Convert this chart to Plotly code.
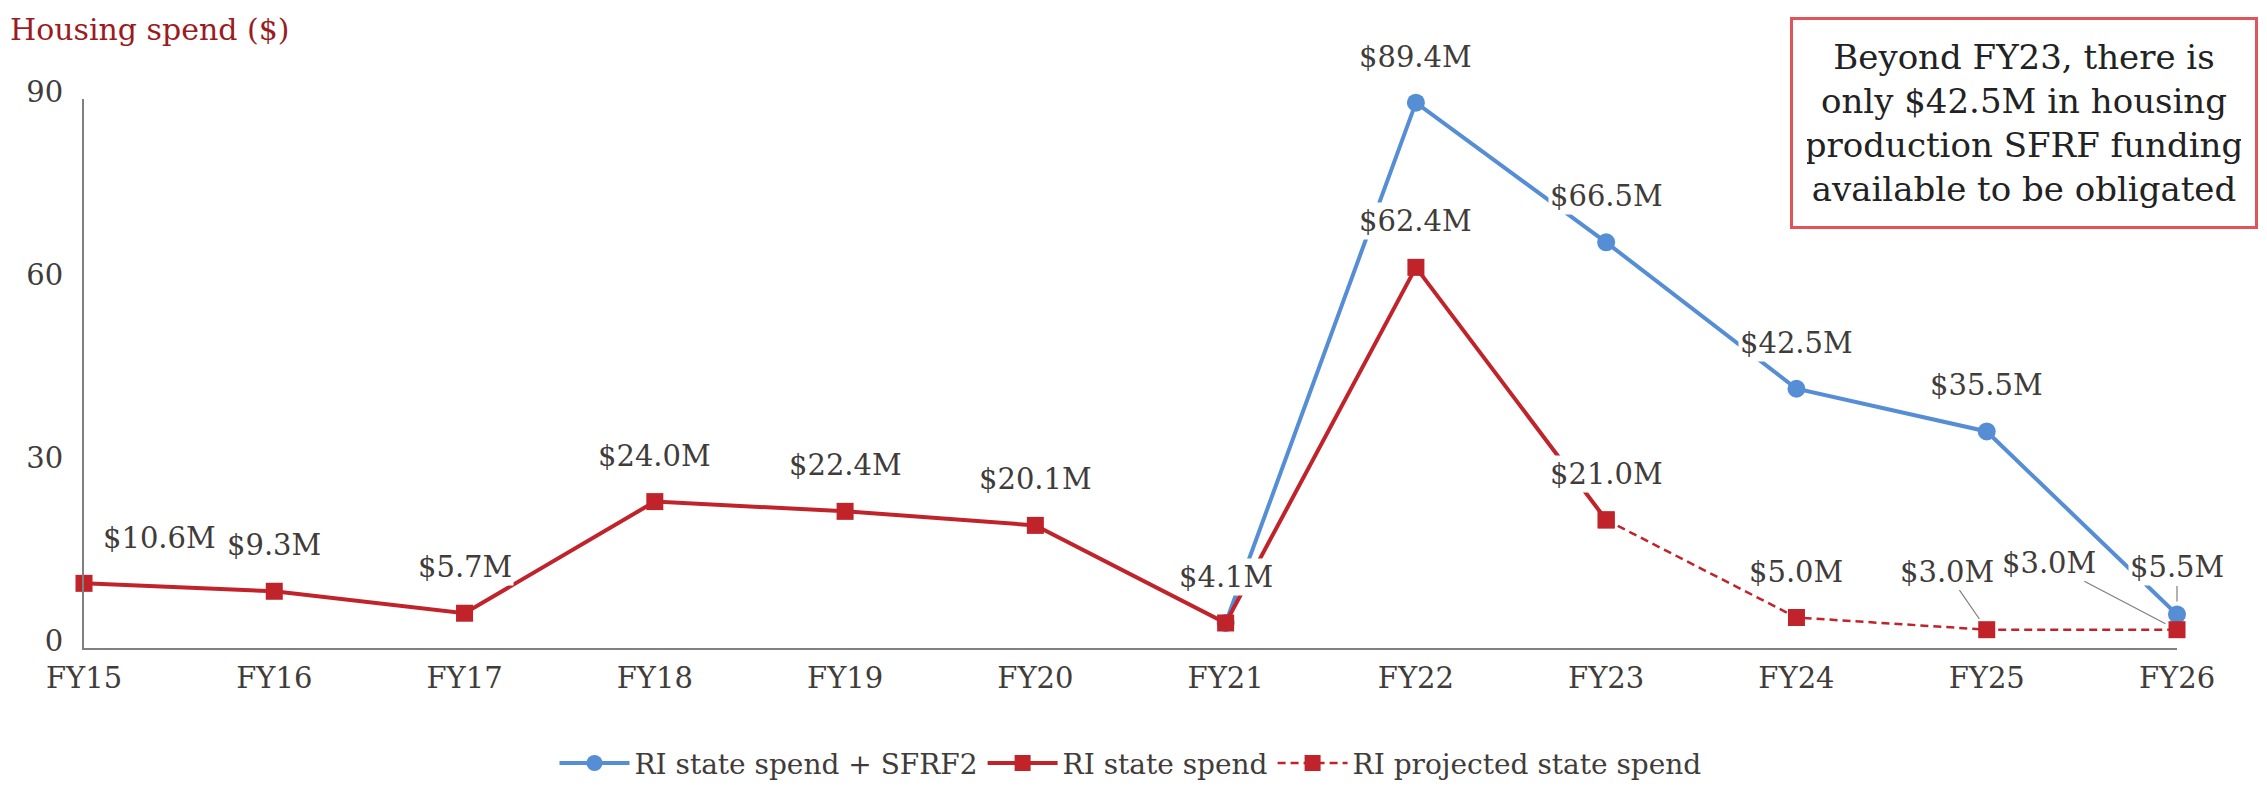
import plotly.graph_objects as go

categories = ["FY15", "FY16", "FY17", "FY18", "FY19", "FY20",
              "FY21", "FY22", "FY23", "FY24", "FY25", "FY26"]
state_spend = [10.6, 9.3, 5.7, 24.0, 22.4, 20.1, 4.1, 62.4, 21.0, None, None, None]
projected_spend = [None, None, None, None, None, None, None, None, 21.0, 5.0, 3.0, 3.0]
state_plus_sfrf2 = [None, None, None, None, None, None, 4.1, 89.4, 66.5, 42.5, 35.5, 5.5]
y_ticks = [0, 30, 60, 90]
note_text = ("Beyond FY23, there is<br>only $42.5M in housing<br>"
             "production SFRF funding<br>available to be obligated")

BLUE = "#558ED5"
RED = "#C0232A"
TXT = "#3F3C3A"
FONT = "DejaVu Serif"

fig = go.Figure()
fig.add_trace(go.Scatter(
    x=categories, y=state_plus_sfrf2, mode="lines+markers",
    name="RI state spend + SFRF2",
    line=dict(color=BLUE, width=4),
    marker=dict(symbol="circle", size=18, color=BLUE),
    cliponaxis=False, hoverinfo="skip"))
fig.add_trace(go.Scatter(
    x=categories, y=state_spend, mode="lines+markers",
    name="RI state spend",
    line=dict(color=RED, width=4),
    marker=dict(symbol="square", size=17, color=RED),
    cliponaxis=False, hoverinfo="skip"))
fig.add_trace(go.Scatter(
    x=categories, y=projected_spend, mode="lines+markers",
    name="RI projected state spend",
    line=dict(color=RED, width=2.5, dash="8px,5px"),
    marker=dict(symbol="square", size=17, color=RED),
    cliponaxis=False, hoverinfo="skip"))


def fmt(v):
    return f"${v:.1f}M"


annotations = []


def label(x, y, xshift=0, yshift=46, arrow=None):
    a = dict(x=x, y=y, xref="x", yref="y", text=fmt(y),
             font=dict(family=FONT, size=29, color=TXT),
             bgcolor="white", borderpad=1)
    if arrow is None:
        a.update(showarrow=False, xshift=xshift, yshift=yshift)
    else:
        a.update(showarrow=True, ax=arrow[0], ay=arrow[1], arrowhead=0,
                 arrowwidth=1.2, arrowcolor="#7F7F7F", standoff=13)
    annotations.append(a)


# red actual series labels
shifts_red = {0: (75, 45)}
for i, v in enumerate(state_spend):
    if v is None:
        continue
    xs, ys = shifts_red.get(i, (0, 46))
    label(categories[i], v, xs, ys)
# blue labels (FY22 onward)
for i, v in enumerate(state_plus_sfrf2):
    if v is None or i < 7:
        continue
    if i == 11:
        label(categories[i], v, arrow=(0, -47))
    else:
        label(categories[i], v)
# projected labels
for i, v in enumerate(projected_spend):
    if v is None or i < 9:
        continue
    if i == 10:
        label(categories[i], v, arrow=(-40, -58))
    elif i == 11:
        label(categories[i], v, arrow=(-128, -67))
    else:
        label(categories[i], v)

# axis title at top-left
annotations.append(dict(
    xref="paper", yref="paper", x=0, y=1, xshift=-76, yshift=70,
    xanchor="left", yanchor="middle", showarrow=False,
    text="Housing spend ($)", font=dict(family=FONT, size=30, color="#9B1B1F")))
# note box
annotations.append(dict(
    xref="paper", yref="paper", x=1, y=1, xshift=81, yshift=82,
    xanchor="right", yanchor="top", showarrow=False,
    text=note_text, align="center", valign="middle", width=434, height=178,
    font=dict(family=FONT, size=34, color="#222222"),
    bgcolor="white", bordercolor="#E0545A", borderwidth=3, borderpad=14))

fig.update_layout(
    width=2251, height=776,
    paper_bgcolor="white", plot_bgcolor="white",
    margin=dict(l=76, r=82, t=91, b=136, autoexpand=False),
    font=dict(family=FONT, size=29, color=TXT),
    annotations=annotations,
    showlegend=True,
    legend=dict(orientation="h", x=0.5, xanchor="center", y=-0.21, yanchor="middle",
                font=dict(family=FONT, size=28, color=TXT),
                bgcolor="rgba(0,0,0,0)", itemwidth=70, tracegroupgap=0),
    hovermode=False,
)
fig.update_xaxes(
    type="category", categoryorder="array", categoryarray=categories,
    range=[0, 11], showgrid=False, zeroline=False,
    showline=True, linecolor="#808080", linewidth=2,
    ticks="", ticklabelstandoff=3, tickfont=dict(family=FONT, size=29, color=TXT))
fig.update_yaxes(
    range=[0, 90], tickvals=y_ticks, ticktext=[str(t) for t in y_ticks],
    showgrid=False, zeroline=False,
    showline=True, linecolor="#808080", linewidth=2,
    ticks="", ticklabelstandoff=13, ticklabelshift=-7,
    tickfont=dict(family=FONT, size=29, color=TXT))

fig.write_html("out.html")
